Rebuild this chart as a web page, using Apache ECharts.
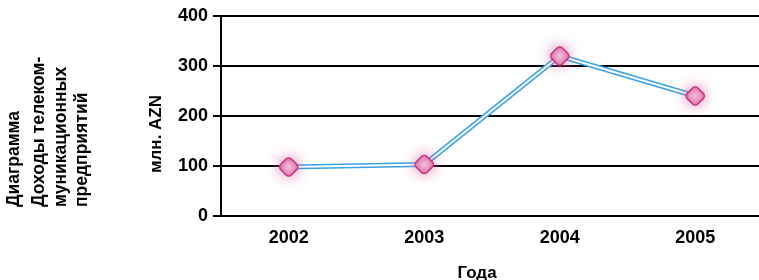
<!DOCTYPE html>
<html>
<head>
<meta charset="utf-8">
<script src="https://cdn.jsdelivr.net/npm/echarts@6/dist/echarts.min.js"></script>
<style>
html,body{margin:0;padding:0;background:#fff;}
#main{width:759px;height:280px;}
</style>
</head>
<body>
<div id="main"></div>
<script>
// data
var years = ['2002', '2003', '2004', '2005'];
var income = [98, 103, 320, 240];
var yTicks = [0, 100, 200, 300, 400];
var titleLines = ['Диаграмма', 'Доходы телеком-', 'муникационных', 'предприятий'];

var font = 'Liberation Sans, Arial, sans-serif';
var myChart = echarts.init(document.getElementById('main'));

// left side title, rotated columns
var titleX = [14, 39, 61, 82];
var graphics = [];
for (var i = 0; i < titleLines.length; i++) {
	graphics.push({
		type: 'text',
		x: titleX[i], y: 207,
		rotation: Math.PI / 2,
		style: {
			text: titleLines[i],
			font: 'bold 17.5px ' + font,
			fill: '#000',
			textAlign: 'left',
			textVerticalAlign: 'middle'
		}
	});
}

var option = {
	animation: false,
	backgroundColor: '#fff',
	graphic: graphics,
	grid: {left: 221, top: 16, width: 542, height: 200, outerBoundsMode: 'none', containLabel: false},
	xAxis: {
		type: 'category',
		data: years,
		boundaryGap: true,
		name: 'Года',
		nameLocation: 'middle',
		nameGap: 49,
		nameTextStyle: {fontFamily: font, fontWeight: 'bold', fontSize: 17, color: '#000', padding: [0, 30, 0, 0]},
		axisLine: {lineStyle: {color: '#000', width: 2}},
		axisTick: {alignWithLabel: true, length: 8, lineStyle: {color: '#000', width: 2}},
		axisLabel: {fontFamily: font, fontWeight: 'bold', fontSize: 18, color: '#000', margin: 13}
	},
	yAxis: {
		type: 'value',
		min: yTicks[0],
		max: yTicks[yTicks.length - 1],
		interval: 100,
		name: 'млн. AZN',
		nameLocation: 'middle',
		nameGap: 56,
		nameTextStyle: {fontFamily: font, fontWeight: 'bold', fontSize: 17, color: '#000', padding: [0, 36, 0, 0]},
		axisLine: {show: true, lineStyle: {color: '#000', width: 2}},
		axisTick: {show: true, length: 8, lineStyle: {color: '#000', width: 2}},
		axisLabel: {fontFamily: font, fontWeight: 'bold', fontSize: 18, color: '#000', margin: 13},
		splitLine: {lineStyle: {color: '#000', width: 2}}
	},
	series: [
		{
			// outer blue line
			type: 'line',
			data: income,
			showSymbol: false,
			lineStyle: {color: '#38a2e4', width: 5},
			z: 3
		},
		{
			// white core plus the markers
			type: 'line',
			data: income,
			symbol: 'roundRect',
			symbolRotate: 45,
			symbolSize: 15,
			lineStyle: {color: '#fff', width: 2},
			itemStyle: {
				color: {
					type: 'radial', x: 0.5, y: 0.5, r: 0.6,
					colorStops: [{offset: 0, color: '#f4cfe2'}, {offset: 1, color: '#dc6ca6'}]
				},
				borderColor: '#c8357e',
				borderWidth: 1.5,
				shadowBlur: 14,
				shadowColor: 'rgba(225,110,170,0.85)'
			},
			z: 4
		}
	]
};
myChart.setOption(option);
</script>
</body>
</html>
